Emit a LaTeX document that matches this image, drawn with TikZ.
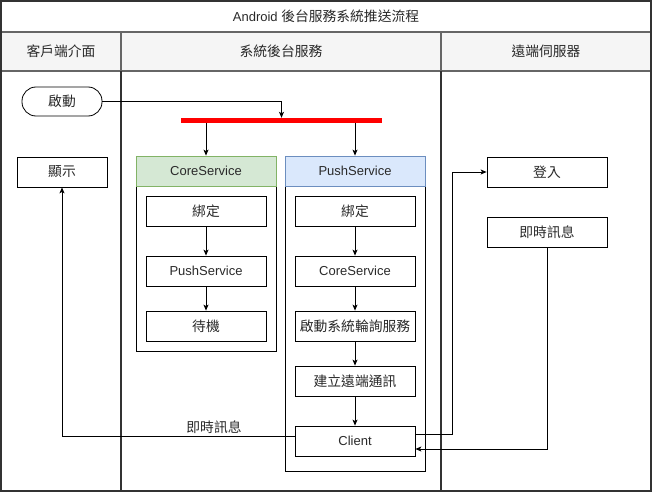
\documentclass[tikz,border=0pt]{standalone}
\usepackage{fontspec}
\setmainfont{Liberation Sans}
\newfontfamily\cjk[Scale=1.06]{Noto Sans CJK TC}
\usetikzlibrary{arrows.meta}
\definecolor{hdrfill}{HTML}{F5F5F5}
\definecolor{laneline}{HTML}{333333}
\definecolor{hdrline}{HTML}{666666}
\definecolor{greenfill}{HTML}{D5E8D4}
\definecolor{greenline}{HTML}{82B366}
\definecolor{bluefill}{HTML}{DAE8FC}
\definecolor{blueline}{HTML}{6C8EBF}
\definecolor{txt}{HTML}{2A2A2A}
\begin{document}
\begin{tikzpicture}[x=1pt,y=-1pt,
  font=\fontsize{13}{15}\selectfont,
  every node/.style={text=txt},
  box/.style={draw=black, line width=0.8pt, fill=white, minimum width=120pt, minimum height=30pt, inner sep=0pt},
  hdrlabel/.style={text=txt},
  arr/.style={draw=black, line width=0.8pt, -{Stealth[length=6pt,width=5pt,inset=1.5pt]}},
  plainline/.style={draw=black, line width=0.8pt}
]
\useasboundingbox (0,0) rectangle (652,492);
% pool
\fill[white] (0,0) rectangle (652,492);
\fill[hdrfill] (1,32) rectangle (651,71);
\draw[hdrline, line width=1.2pt] (1,32) -- (651,32);
\draw[hdrline, line width=1.2pt] (1,71) -- (651,71);
\draw[hdrline, line width=1.2pt] (121,32) -- (121,71);
\draw[hdrline, line width=1.2pt] (441,32) -- (441,71);
\draw[laneline, line width=1.6pt] (121,71) -- (121,491);
\draw[laneline, line width=1.6pt] (441,71) -- (441,491);
\draw[laneline, line width=1.6pt] (1,1) rectangle (651,491);
\node (title) at (326,16.5) {Android {\cjk 後台服務系統推送流程}};
\node[hdrlabel] (h1) at (61,51.5) {\cjk 客戶端介面};
\node[hdrlabel] (h2) at (281,51.5) {\cjk 系統後台服務};
\node[hdrlabel] (h3) at (546,51.5) {\cjk 遠端伺服器};

% start
\node[draw=black, line width=0.8pt, rounded corners=14pt, minimum width=80pt, minimum height=29pt, inner sep=0pt] (start) at (62,101.5) {\cjk 啟動};
% fork bar
\node[fill=red, minimum width=201pt, minimum height=5pt, inner sep=0pt] (bar) at (281.5,120.5) {};

% CoreService container
\node[draw=black, line width=0.8pt, minimum width=140pt, minimum height=165pt, inner sep=0pt] (csb) at (206,268.5) {};
\node[draw=greenline, fill=greenfill, line width=0.8pt, minimum width=140pt, minimum height=30pt, inner sep=0pt] (csh) at (206,171) {CoreService};
\node[box] (c1) at (206,211) {\cjk 綁定};
\node[box] (c2) at (206,271) {PushService};
\node[box] (c3) at (206,326) {\cjk 待機};

% PushService container
\node[draw=black, line width=0.8pt, minimum width=140pt, minimum height=285pt, inner sep=0pt] (psb) at (355,328.5) {};
\node[draw=blueline, fill=bluefill, line width=0.8pt, minimum width=140pt, minimum height=30pt, inner sep=0pt] (psh) at (355,171) {PushService};
\node[box] (p1) at (355,211) {\cjk 綁定};
\node[box] (p2) at (355,271) {CoreService};
\node[box] (p3) at (355,326) {\cjk 啟動系統輪詢服務};
\node[box] (p4) at (355,381) {\cjk 建立遠端通訊};
\node[box] (p5) at (355,441) {Client};

% client lane
\node[box, minimum width=90pt] (show) at (62,172) {\cjk 顯示};
% remote lane
\node[box] (login) at (547,172) {\cjk 登入};
\node[box] (msg) at (547,232) {\cjk 即時訊息};

% connectors
\draw[arr] (start.east) -| (bar.north);
\draw[arr] (bar.south -| csh.north) -- (csh.north);
\draw[arr] (bar.south -| psh.north) -- (psh.north);
\draw[arr] (c1) -- (c2);
\draw[arr] (c2) -- (c3);
\draw[arr] (p1) -- (p2);
\draw[arr] (p2) -- (p3);
\draw[arr] (p3) -- (p4);
\draw[arr] (p4) -- (p5);
\draw[arr] ([yshift=5pt]p5.west) -| (show.south);
\node (lbl) at (214,427) {\cjk 即時訊息};
\coordinate (k1) at (452,434);
\draw[arr] ([yshift=7pt]p5.east) -- (k1) |- (login.west);
\draw[arr] (msg.south) |- ([yshift=-8pt]p5.east);
\end{tikzpicture}
\end{document}
